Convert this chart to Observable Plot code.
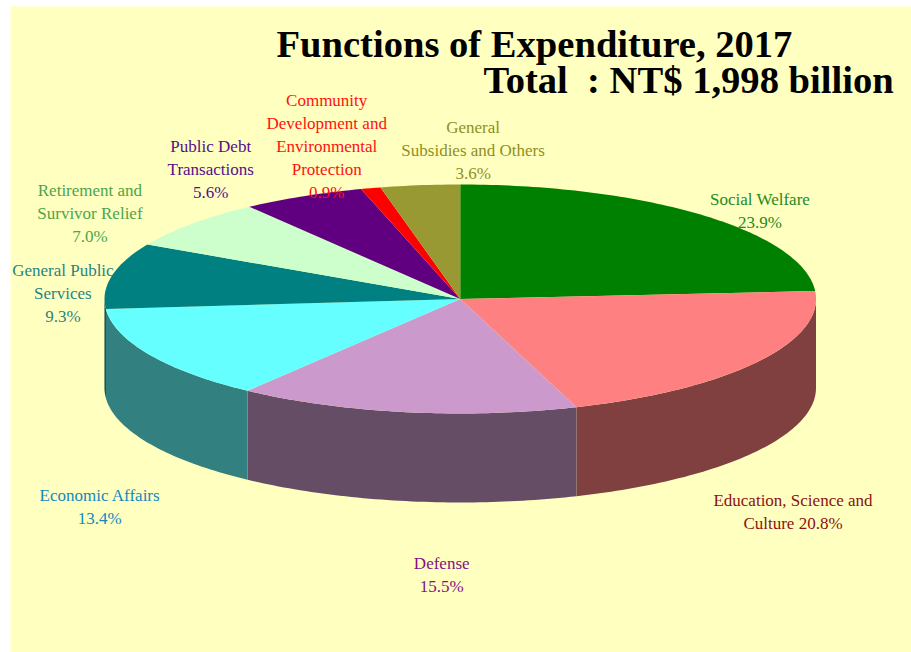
<!DOCTYPE html>
<html><head><meta charset="utf-8">
<script src="https://cdn.jsdelivr.net/npm/d3@7"></script>
<script src="https://cdn.jsdelivr.net/npm/@observablehq/plot@0.6"></script>
<style>html,body{margin:0;padding:0;background:#fff}svg{display:block}</style>
</head><body><div id="chart"></div>
<script>
const titleLine = "Functions of Expenditure, 2017";
const subtitleLine = "Total  : NT$ 1,998 billion";
const categories = ["Social Welfare","Education, Science and Culture","Defense","Economic Affairs","General Public Services","Retirement and Survivor Relief","Public Debt Transactions","Community Development and Environmental Protection","General Subsidies and Others"];
const shares = [23.9,20.8,15.5,13.4,9.3,7.0,5.6,0.9,3.6];
const labelTexts = ["Social Welfare\n23.9%","Education, Science and\nCulture 20.8%","Defense\n15.5%","Economic Affairs\n13.4%","General Public\nServices\n9.3%","Retirement and\nSurvivor Relief\n7.0%","Public Debt\nTransactions\n5.6%","Community\nDevelopment and\nEnvironmental\nProtection\n0.9%","General\nSubsidies and Others\n3.6%"];
const topColors = ["#008000","#FF8080","#CC99CC","#66FFFF","#008080","#CCFFCC","#600080","#FF0000","#999933"];
const sideColors = ["#004000","#804040","#664D66","#338080","#004040","#668066","#300040","#800000","#4D4D1A"];
const labelColors = ["#1F8A1F","#8B1111","#851085","#1288BE","#1F8585","#4BA54B","#540F8C","#FF1111","#8F8F22"];
const labelDx = [57,36,36,-50,-49,-102,-92,-44,53];
const labelDy = [-6.5,148,161,150.5,15.5,-12,-29,-44,-37];

const total = d3.sum(shares);
const rimDepth = 0.777;
const cum = d3.cumsum(shares);
const slices = shares.map((v,i)=>({
  name: categories[i],
  a0: (cum[i]-v)/total*2*Math.PI,
  a1: cum[i]/total*2*Math.PI,
  top: topColors[i], side: sideColors[i], label: labelTexts[i], color: labelColors[i], dx: labelDx[i], dy: labelDy[i]
}));
const rim = (a, drop=0) => ({x: Math.sin(a), y: Math.cos(a) - drop});
function arc(a0, a1){
  const n = Math.max(2, Math.ceil((a1-a0)/(Math.PI/180)));
  return d3.range(n+1).map(k => a0 + (a1-a0)*k/n);
}
function topShape(s){ return [{x:0,y:0}, ...arc(s.a0,s.a1).map(a=>rim(a))]; }
function sideShape(s){
  const a0 = Math.max(s.a0, Math.PI/2), a1 = Math.min(s.a1, 3*Math.PI/2);
  if (a1 <= a0) return null;
  const as = arc(a0,a1);
  return [...as.map(a=>rim(a)), ...as.slice().reverse().map(a=>rim(a,rimDepth))];
}
const marks = [Plot.frame({fill:"#FFFFC0", stroke:"none"})];
for (const s of slices){
  const pts = sideShape(s);
  if (pts) marks.push(Plot.line(pts,{x:"x",y:"y",fill:s.side,stroke:"none"}));
}
for (const s of slices) marks.push(Plot.line(topShape(s),{x:"x",y:"y",fill:s.top,stroke:"none"}));
for (const s of slices){
  const mid = (s.a0+s.a1)/2, p = rim(mid);
  marks.push(Plot.text([s.label],{x:()=>p.x,y:()=>p.y,text:d=>d,dx:s.dx,dy:s.dy,fill:s.color,fontSize:17,lineHeight:1.353,fontFamily:"Liberation Serif",textAnchor:"middle"}));
}
marks.push(Plot.text([titleLine],{frameAnchor:"top-left",dx:266,dy:23,fontSize:38.6,fontWeight:"bold",fontFamily:"Liberation Serif",fill:"#000",lineAnchor:"top"}));
marks.push(Plot.text([subtitleLine],{frameAnchor:"top-left",dx:473,dy:59,fontSize:38.6,fontWeight:"bold",fontFamily:"Liberation Serif",fill:"#000",lineAnchor:"top"}));

const chart = Plot.plot({
  width:911, height:652, marginLeft:10, marginTop:6, marginRight:0, marginBottom:0,
  x:{axis:null, domain:[-1,1], range:[104,815.5]},
  y:{axis:null, domain:[-1,1], range:[413,184]},
  style:{background:"#fff"},
  marks
});
document.getElementById("chart").append(chart);
</script></body></html>
